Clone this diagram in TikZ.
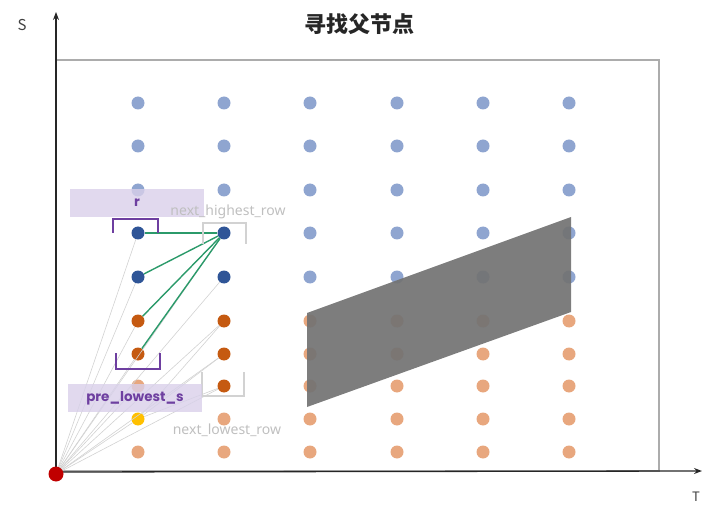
\documentclass[tikz,border=0pt]{standalone}
\usepackage{fontspec}
\setsansfont{Noto Sans}
\newfontfamily\cjk{Noto Sans CJK SC}
\newfontfamily\tagfont{Poppins}
\usepackage{tikz}
\usetikzlibrary{arrows.meta}
\definecolor{lblue}{HTML}{8FA5D0}
\definecolor{dblue}{HTML}{2F5597}
\definecolor{lorange}{HTML}{E8A77E}
\definecolor{dorange}{HTML}{C55A11}
\definecolor{ptyellow}{HTML}{FFC000}
\definecolor{ptred}{HTML}{C00000}
\definecolor{lavender}{HTML}{D9D0EA}
\definecolor{ppurple}{HTML}{6E3FA0}
\definecolor{lgreen}{HTML}{2B9A6A}

\begin{document}
\begin{tikzpicture}[x=1pt, y=-1pt,
  every node/.style={font=\sffamily},
  dot/.style={circle, inner sep=0pt, minimum size=13pt},
  fan/.style={gray!35, line width=0.6pt},
  link/.style={lgreen, line width=1.4pt},
  axis/.style={-{Stealth[length=8pt, width=6pt]}, line width=1.3pt, black!85},
  tag/.style={fill=lavender, fill opacity=0.8, text opacity=1, minimum width=134pt,
              minimum height=28pt, inner sep=0pt, text=ppurple, font=\tagfont\bfseries\fontsize{13.5}{15}\selectfont},
  hint/.style={text=gray!50, font=\sffamily\fontsize{14}{16}\selectfont},
  brk/.style={ppurple, line width=1.8pt},
  gbrk/.style={gray!35, line width=1.2pt},
]
\useasboundingbox (0,0) rectangle (715,513);

%% frame and axes
\draw[gray!65, line width=1.3pt] (56,60) rectangle (659,471);
\coordinate (sEnd) at (56,12);
\coordinate (tEnd) at (702,471);
\node[dot, minimum size=1pt] (corner) at (56,472) {};
\draw[axis] (corner.center) -- (sEnd);
\draw[axis] (corner.center) -- (tEnd);
\node[font=\cjk\fontsize{15}{17}\selectfont, text=black!75] (slbl) at (22,25) {S};
\node[font=\cjk\fontsize{13}{15}\selectfont, text=black!75] (tlbl) at (696,497) {T};
\node[font=\cjk\bfseries\fontsize{22}{24}\selectfont, text=black!85] (title) at (359,24) {寻找父节点};

%% plain columns 3..6
\foreach \c/\x in {3/310,4/397,5/483,6/569} {
  \foreach \r/\y in {1/103,2/146,3/190,4/233,5/277}
    \node[dot, fill=lblue] (c\c r\r) at (\x,\y) {};
  \foreach \r/\y in {6/321,7/354,8/386,9/419,10/452}
    \node[dot, fill=lorange] (c\c r\r) at (\x,\y) {};
}

%% columns 1 and 2
\foreach \c/\x in {1/138,2/224}
  \foreach \r/\y in {1/103,2/146,3/190}
    \node[dot, fill=lblue] (c\c r\r) at (\x,\y) {};
\node[dot, fill=dblue] (c1r4) at (138,233) {};
\node[dot, fill=dblue] (c1r5) at (138,277) {};
\node[dot, fill=dorange] (c1r6) at (138,321) {};
\node[dot, fill=dorange] (c1r7) at (138,354) {};
\node[dot, fill=lorange] (c1r8) at (138,386) {};
\node[dot, fill=ptyellow] (c1r9) at (138,419) {};
\node[dot, fill=lorange] (c1r10) at (138,452) {};
\node[dot, fill=dblue] (c2r4) at (224,233) {};
\node[dot, fill=dblue] (c2r5) at (224,277) {};
\node[dot, fill=dorange] (c2r6) at (224,321) {};
\node[dot, fill=dorange] (c2r7) at (224,354) {};
\node[dot, fill=dorange] (c2r8) at (224,386) {};
\node[dot, fill=lorange] (c2r9) at (224,419) {};
\node[dot, fill=lorange] (c2r10) at (224,452) {};

%% origin
\node[dot, fill=ptred, minimum size=15pt] (origin) at (56,474) {};

%% fan of candidate lines
\foreach \r in {4,...,9}
  \draw[fan] (origin) -- (c1r\r);
\foreach \r in {4,...,8}
  \draw[fan] (origin) -- (c2r\r);
\foreach \r in {6,7,8}
  \draw[fan] (c1r9) -- (c2r\r);

%% parent links
\foreach \r in {4,...,7}
  \draw[link] (c2r4) -- (c1r\r);

%% blocked region
\fill[black!55, fill opacity=0.93] (307,313) -- (571,217) -- (571,312) -- (307,407) -- cycle;

%% brackets
\draw[brk] (113,233) -- (113,219) -- (158,219) -- (158,233);
\draw[brk] (116,353) -- (116,369) -- (160,369) -- (160,353);
\draw[gbrk] (203,244) -- (203,223) -- (246,223) -- (246,244);
\draw[gbrk] (202,372) -- (202,396) -- (244,396) -- (244,372);

%% labels
\node[tag] (rtag) at (137,203) {r};
\node[tag] (ptag) at (135,398) {pre\_lowest\_s};
\node[hint] (nhigh) at (228,212) {next\_highest\_row};
\node[hint] (nlow) at (227,430) {next\_lowest\_row};

\end{tikzpicture}
\end{document}
